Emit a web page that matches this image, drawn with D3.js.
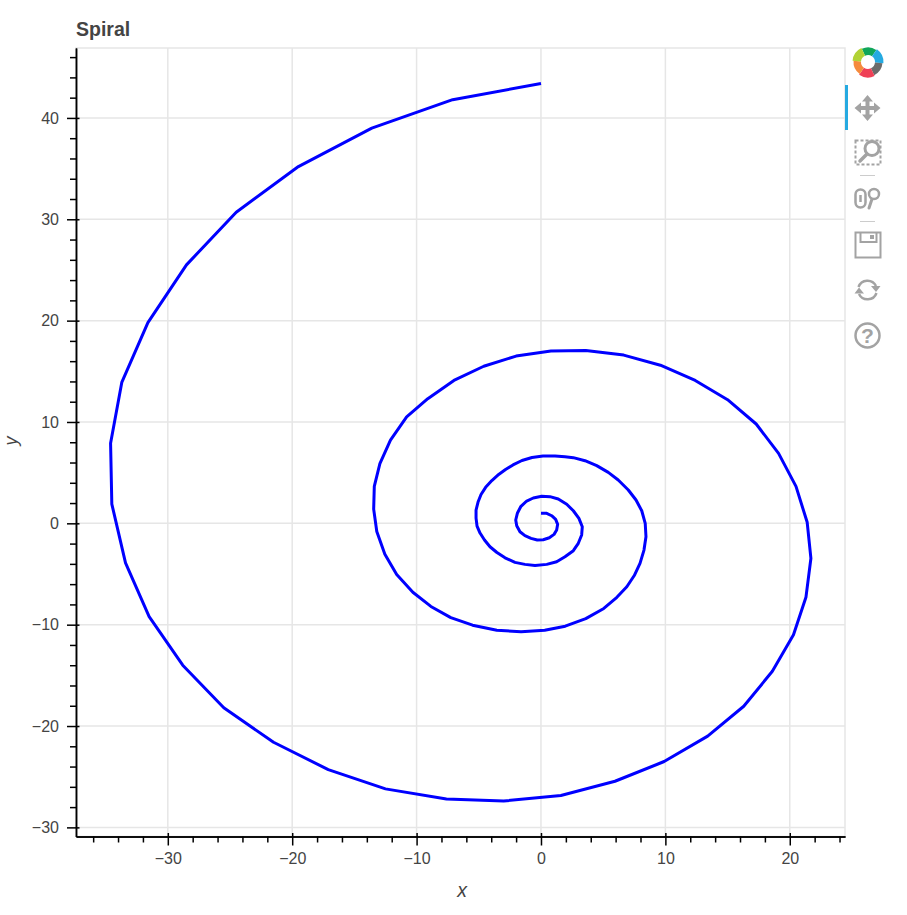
<!DOCTYPE html>
<html>
<head>
<meta charset="utf-8">
<title>Spiral</title>
<script src="https://cdn.jsdelivr.net/npm/d3@7"></script>
<style>
  body { margin: 0; background: #fff; }
  text { font-family: "Liberation Sans", Helvetica, Arial, sans-serif; }
</style>
</head>
<body>
<div id="chart"></div>
<script>
// Values, in order from the centre of the spiral outwards
const spiralX = [
    0, 0.46, 0.86, 1.18, 1.34, 1.26, 1.05, 0.67, 0.18, -0.30, -0.80, -1.29, -1.69, -1.95, -2.03, -1.90,
    -1.63, -1.15, -0.62, 0.06, 0.72, 1.39, 2.07, 2.60, 3.05, 3.32, 3.27, 3.00, 2.60, 1.93, 1.26, 0.46,
    -0.48, -1.29, -2.09, -2.89, -3.54, -4.10, -4.54, -4.90, -5.14, -5.22, -5.22, -5.06, -4.82, -4.45,
    -3.95, -3.40, -2.85, -2.25, -1.53, -0.72, 0.16, 1.13, 1.93, 2.60, 3.54, 4.48, 5.41, 6.21, 7.02,
    7.64, 8.10, 8.38, 8.44, 8.28, 7.96, 7.50, 6.90, 6.10, 5.05,
    3.6, 1.95, 0.3, -1.6, -3.55, -5.5, -7.25, -8.85, -10.3, -11.6, -12.55, -13.2, -13.45, -13.4, -12.95,
    -12.1, -10.8, -9.1, -7, -4.6, -2, 0.8, 3.6, 6.65, 9.6, 12.4, 15, 17.3, 19.1, 20.5, 21.4, 21.7, 21.3,
    20.3, 18.6, 16.3, 13.4, 9.9, 5.95, 1.6, -3, -7.6, -12.5, -17.1, -21.5, -25.5, -28.8, -31.5, -33.4,
    -34.5, -34.6, -33.7, -31.6, -28.5, -24.5, -19.5, -13.6, -7.1, 0
];
const spiralY = [
    1.0, 0.99, 0.75, 0.39, -0.10, -0.66, -1.09, -1.42, -1.62, -1.65, -1.48, -1.22, -0.83, -0.24, 0.33, 0.99,
    1.64, 2.20, 2.50, 2.67, 2.63, 2.40, 1.88, 1.24, 0.49, -0.34, -1.15, -1.97, -2.70, -3.30, -3.79, -4.05,
    -4.15, -4.05, -3.85, -3.40, -2.88, -2.31, -1.65, -0.96, -0.27, 0.52, 1.31, 2.10, 2.85, 3.55,
    4.22, 4.82, 5.31, 5.76, 6.20, 6.50, 6.64, 6.64, 6.56, 6.48, 6.18, 5.69, 5.03, 4.27, 3.29,
    2.30, 1.24, 0, -1.32, -2.64, -3.95, -5.15, -6.26, -7.30, -8.4,
    -9.4, -10.15, -10.55, -10.7, -10.55, -10.05, -9.3, -8.2, -6.8, -5.05, -3.05, -0.8, 1.4, 3.65, 5.9,
    8.2, 10.5, 12.3, 14.1, 15.5, 16.5, 17, 17.05, 16.6, 15.6, 14.1, 12.2, 9.8, 6.9, 3.65, 0.1, -3.45, -7.3,
    -11, -14.6, -18.05, -21, -23.5, -25.45, -26.85, -27.4, -27.2, -26.2, -24.3, -21.6, -18.2, -14, -9.2, -3.9,
    1.9, 7.9, 13.9, 19.8, 25.5, 30.7, 35.2, 39, 41.8, 43.4
];
const xTicks = [-30, -20, -10, 0, 10, 20];
const yTicks = [-30, -20, -10, 0, 10, 20, 30, 40];
const xDomain = [-37.38, 24.44];
const yDomain = [-30.9, 46.9];
const minorStep = 2;

const width = 907;
const height = 915;
const plotLeft = 76, plotRight = 845, plotTop = 48, plotBottom = 836.5;
const gridColor = '#e6e6e6';
const textColor = '#444444';

const svg = d3.select('#chart')
    .append('svg')
    .attr('width', width)
    .attr('height', height)
    .style('display', 'block');

const x = d3.scaleLinear().domain(xDomain).range([plotLeft, plotRight]);
const y = d3.scaleLinear().domain(yDomain).range([plotBottom, plotTop]);

// Minor ticks sit on every 2 units across the visible range
const minorValues = domain => d3.range(Math.ceil(domain[0] / minorStep), Math.floor(domain[1] / minorStep) + 1)
    .map(i => i * minorStep)
    .filter(v => v % 10 !== 0);

// Plot frame and grid
svg.append('rect')
    .attr('x', plotLeft).attr('y', plotTop)
    .attr('width', plotRight - plotLeft).attr('height', plotBottom - plotTop)
    .attr('fill', 'none').attr('stroke', gridColor).attr('stroke-width', 1.5);

svg.append('g').selectAll('line')
    .data(xTicks)
    .enter().append('line')
    .attr('x1', d => x(d)).attr('x2', d => x(d))
    .attr('y1', plotTop).attr('y2', plotBottom)
    .attr('stroke', gridColor).attr('stroke-width', 1.5);

svg.append('g').selectAll('line')
    .data(yTicks)
    .enter().append('line')
    .attr('x1', plotLeft).attr('x2', plotRight)
    .attr('y1', d => y(d)).attr('y2', d => y(d))
    .attr('stroke', gridColor).attr('stroke-width', 1.5);

// Spiral
const line = d3.line()
    .x(d => x(d))
    .y((d, i) => y(spiralY[i]));

svg.append('path')
    .datum(spiralX)
    .attr('d', line)
    .attr('fill', 'none')
    .attr('stroke', '#0000ff')
    .attr('stroke-width', 3)
    .attr('stroke-linejoin', 'round');

// Axes
const fmt = d => String(d).replace('-', '\u2212');

const xAxis = svg.append('g')
    .attr('transform', `translate(0,${plotBottom})`)
    .call(d3.axisBottom(x).tickValues(xTicks).tickFormat(fmt).tickSize(9).tickSizeOuter(0).tickPadding(7));
xAxis.selectAll('.tick line').attr('y1', -3.5).attr('stroke-width', 1.5).attr('stroke', '#000');

const xMinor = svg.append('g')
    .attr('transform', `translate(0,${plotBottom})`)
    .call(d3.axisBottom(x).tickValues(minorValues(xDomain)).tickFormat('').tickSize(6).tickSizeOuter(0));
xMinor.selectAll('.tick line').attr('stroke-width', 1.5).attr('stroke', '#000');

const yAxis = svg.append('g')
    .attr('transform', `translate(${plotLeft},0)`)
    .call(d3.axisLeft(y).tickValues(yTicks).tickFormat(fmt).tickSize(9).tickSizeOuter(0).tickPadding(8));
yAxis.selectAll('.tick line').attr('x1', 3.5).attr('stroke-width', 1.5).attr('stroke', '#000');

const yMinor = svg.append('g')
    .attr('transform', `translate(${plotLeft},0)`)
    .call(d3.axisLeft(y).tickValues(minorValues(yDomain)).tickFormat('').tickSize(6).tickSizeOuter(0));
yMinor.selectAll('.tick line').attr('stroke-width', 1.5).attr('stroke', '#000');

svg.selectAll('.domain').attr('stroke', '#000').attr('stroke-width', 1.5);
svg.selectAll('.tick text')
    .attr('font-family', '"Liberation Sans", Helvetica, Arial, sans-serif')
    .attr('font-size', 16)
    .attr('fill', textColor);

// Title and axis labels
svg.append('text')
    .attr('x', 76).attr('y', 36)
    .attr('font-size', 19.5).attr('font-weight', 'bold')
    .attr('fill', textColor)
    .text('Spiral');

svg.append('text')
    .attr('x', 462).attr('y', 897)
    .attr('text-anchor', 'middle')
    .attr('font-size', 19.5).attr('font-style', 'italic')
    .attr('fill', textColor)
    .text('x');

svg.append('text')
    .attr('transform', 'translate(16.5,441) rotate(-90)')
    .attr('text-anchor', 'middle')
    .attr('font-size', 18).attr('font-style', 'italic')
    .attr('fill', textColor)
    .text('y');

// Toolbar
const toolbar = svg.append('g');
const iconColor = '#a3a3a3';

const logoColors = ['#10a65a', '#26aae1', '#6b6b6b', '#ef4056', '#f58a3c', '#b1d235'];
const logo = toolbar.append('g').attr('transform', 'translate(868,62)');
logo.selectAll('path')
    .data(logoColors)
    .enter().append('path')
    .attr('d', (d, i) => d3.arc()({
        innerRadius: 7,
        outerRadius: 14.5 + (i % 2),
        startAngle: (i * 60 - 25) * Math.PI / 180,
        endAngle: (i * 60 + 35) * Math.PI / 180
    }))
    .attr('fill', d => d);

toolbar.append('rect')
    .attr('x', 845).attr('y', 85)
    .attr('width', 3).attr('height', 45)
    .attr('fill', '#26aae1');

// pan
toolbar.append('path')
    .attr('d', 'M867.5 95 l5.5 6.5 h-3.5 v4.5 h4.5 v-3.5 l6.5 5.5 l-6.5 5.5 v-3.5 h-4.5 v4.5 h3.5 l-5.5 6.5 l-5.5 -6.5 h3.5 v-4.5 h-4.5 v3.5 l-6.5 -5.5 l6.5 -5.5 v3.5 h4.5 v-4.5 h-3.5 z')
    .attr('fill', iconColor);

// box zoom
toolbar.append('rect')
    .attr('x', 855.5).attr('y', 140.5)
    .attr('width', 25).attr('height', 24)
    .attr('fill', 'none').attr('stroke', iconColor)
    .attr('stroke-width', 2).attr('stroke-dasharray', '3 2');
toolbar.append('line')
    .attr('x1', 860).attr('y1', 161).attr('x2', 868).attr('y2', 153)
    .attr('stroke', iconColor).attr('stroke-width', 3.5).attr('stroke-linecap', 'round');
toolbar.append('circle')
    .attr('cx', 872).attr('cy', 148.5).attr('r', 7)
    .attr('fill', '#fff').attr('stroke', iconColor).attr('stroke-width', 3);

toolbar.append('line')
    .attr('x1', 860).attr('x2', 875).attr('y1', 175.5).attr('y2', 175.5)
    .attr('stroke', '#cccccc').attr('stroke-width', 1);

// wheel zoom
toolbar.append('rect')
    .attr('x', 855.5).attr('y', 189.5)
    .attr('width', 10).attr('height', 18).attr('rx', 5)
    .attr('fill', 'none').attr('stroke', iconColor).attr('stroke-width', 2.5);
toolbar.append('line')
    .attr('x1', 860.5).attr('x2', 860.5).attr('y1', 195).attr('y2', 202)
    .attr('stroke', iconColor).attr('stroke-width', 2.5);
toolbar.append('line')
    .attr('x1', 869).attr('y1', 208).attr('x2', 872).attr('y2', 199)
    .attr('stroke', iconColor).attr('stroke-width', 3).attr('stroke-linecap', 'round');
toolbar.append('circle')
    .attr('cx', 874).attr('cy', 194).attr('r', 5)
    .attr('fill', '#fff').attr('stroke', iconColor).attr('stroke-width', 2.5);

toolbar.append('line')
    .attr('x1', 860).attr('x2', 875).attr('y1', 221.5).attr('y2', 221.5)
    .attr('stroke', '#cccccc').attr('stroke-width', 1);

// save
toolbar.append('rect')
    .attr('x', 855.5).attr('y', 232.5)
    .attr('width', 25).attr('height', 25)
    .attr('fill', 'none').attr('stroke', iconColor).attr('stroke-width', 2);
toolbar.append('path')
    .attr('d', 'M860.5 233 v9 h16 v-9')
    .attr('fill', 'none').attr('stroke', iconColor).attr('stroke-width', 2);
toolbar.append('rect')
    .attr('x', 870).attr('y', 235).attr('width', 4).attr('height', 4)
    .attr('fill', iconColor);

// reset
toolbar.append('path')
    .attr('d', 'M858.5 287 a9.5 9.5 0 0 1 17.5 -1 M876.5 293 a9.5 9.5 0 0 1 -17.5 1')
    .attr('fill', 'none').attr('stroke', iconColor).attr('stroke-width', 2.5);
toolbar.append('path')
    .attr('d', 'M871 286 h9.5 l-4.5 6 z M854.5 293.5 h9.5 l-5 -6 z')
    .attr('fill', iconColor);

// help
toolbar.append('circle')
    .attr('cx', 867.5).attr('cy', 335.5).attr('r', 12)
    .attr('fill', 'none').attr('stroke', iconColor).attr('stroke-width', 2.5);
toolbar.append('text')
    .attr('x', 867.5).attr('y', 343)
    .attr('text-anchor', 'middle')
    .attr('font-size', 21).attr('font-weight', 'bold')
    .attr('fill', iconColor)
    .text('?');
</script>
</body>
</html>
